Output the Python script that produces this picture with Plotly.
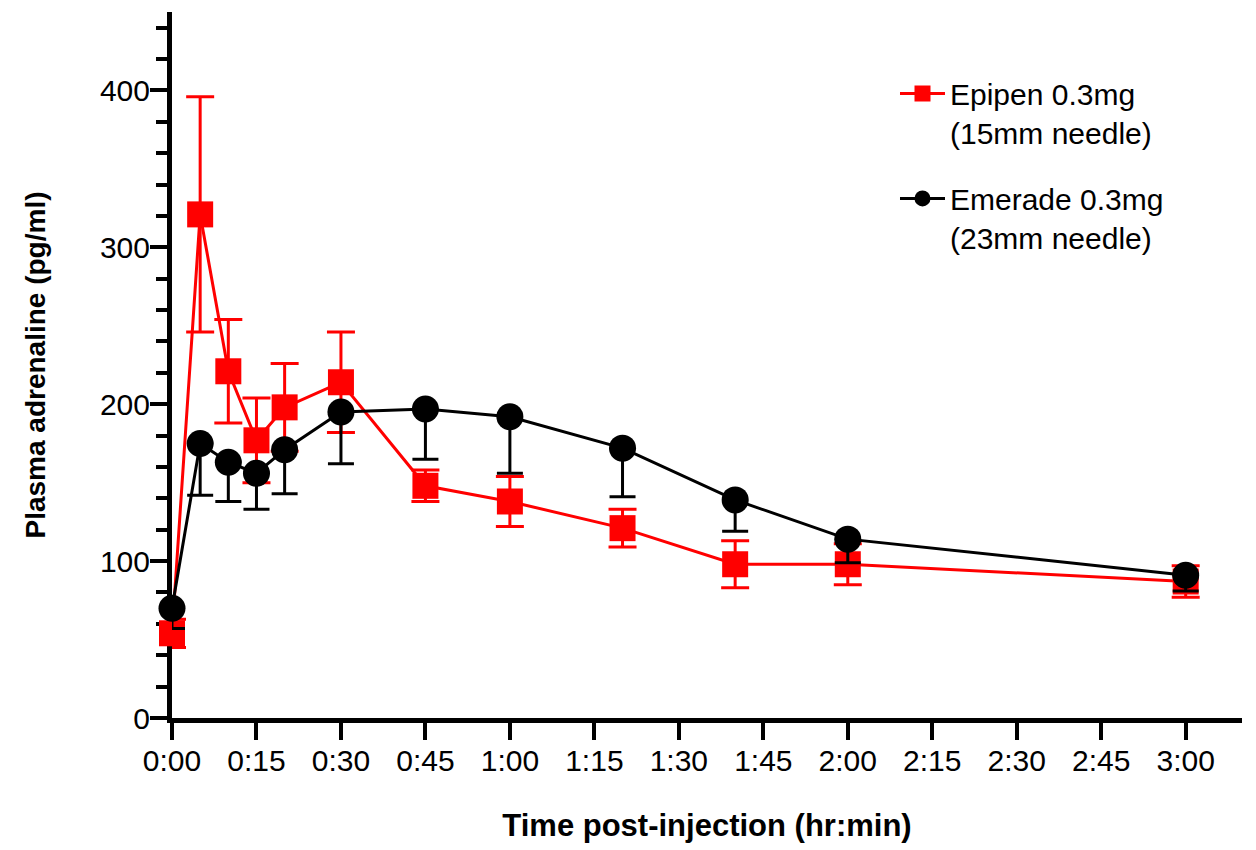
import plotly.graph_objects as go

# ---- data (minutes post-injection) ----
time_min = [0, 5, 10, 15, 20, 30, 45, 60, 80, 100, 120, 180]

epipen_mean = [54, 321, 221, 177, 198, 214, 148, 138, 121, 98, 98, 87]
epipen_err = [9, 75, 33, 27, 28, 32, 10, 16, 12, 15, 13, 10]

emerade_mean = [70, 175, 163, 156, 171, 195, 197, 192, 172, 139, 114, 91]
emerade_err_lower = [13, 33, 25, 23, 28, 33, 32, 36, 31, 20, 15, 10]

x_tickvals = [0, 15, 30, 45, 60, 75, 90, 105, 120, 135, 150, 165, 180]
x_ticktext = ["0:00", "0:15", "0:30", "0:45", "1:00", "1:15", "1:30",
              "1:45", "2:00", "2:15", "2:30", "2:45", "3:00"]
y_tickvals = [0, 100, 200, 300, 400]

FONT = "Liberation Sans, Arial, sans-serif"

fig = go.Figure()

fig.add_trace(go.Scatter(
    x=time_min, y=epipen_mean,
    mode="lines+markers",
    name="Epipen 0.3mg<br>(15mm needle)",
    legendgroup="a",
    line=dict(color="#ff0000", width=3),
    marker=dict(symbol="square", size=26, color="#ff0000"),
    error_y=dict(type="data", array=epipen_err, visible=True,
                 color="#ff0000", thickness=3, width=14),
    cliponaxis=False,
))

fig.add_trace(go.Scatter(
    x=time_min, y=emerade_mean,
    mode="lines+markers",
    name="Emerade 0.3mg<br>(23mm needle)",
    legendgroup="b",
    line=dict(color="#000000", width=3),
    marker=dict(symbol="circle", size=27, color="#000000"),
    error_y=dict(type="data", symmetric=False,
                 array=[0] * len(emerade_err_lower),
                 arrayminus=emerade_err_lower, visible=True,
                 color="#000000", thickness=3, width=13),
    cliponaxis=False,
))

fig.update_layout(
    width=1248, height=842,
    margin=dict(l=164, r=14, t=4, b=132, autoexpand=False),
    paper_bgcolor="white", plot_bgcolor="white",
    font=dict(family=FONT, color="black", size=30),
    showlegend=True,
    legend=dict(
        x=0.6757, y=0.9215, xanchor="left", yanchor="top",
        font=dict(family=FONT, size=30, color="black"),
        traceorder="grouped", tracegroupgap=24,
        valign="top", itemsizing="trace", itemwidth=45,
        bgcolor="rgba(0,0,0,0)",
    ),
    xaxis=dict(
        range=[0, 190],
        tickmode="array", tickvals=x_tickvals, ticktext=x_ticktext,
        showgrid=False, zeroline=False,
        showline=True, linewidth=5, linecolor="black",
        ticks="outside", ticklen=17, tickwidth=4, tickcolor="black",
        tickfont=dict(family=FONT, size=30, color="black"),
        ticklabelstandoff=-5,
        title=dict(text="<b>Time post-injection (hr:min)</b>",
                   font=dict(family=FONT, size=31, color="black"),
                   standoff=40),
        layer="below traces",
    ),
    yaxis=dict(
        range=[0, 450],
        tickmode="array", tickvals=y_tickvals,
        showgrid=False, zeroline=False,
        showline=True, linewidth=5, linecolor="black",
        ticks="outside", ticklen=17, tickwidth=4, tickcolor="black",
        tickfont=dict(family=FONT, size=30, color="black"),
        ticklabelstandoff=-6,
        minor=dict(dtick=20, tick0=0, ticks="outside", ticklen=11,
                   tickwidth=4, tickcolor="black", showgrid=False),
        title=dict(text="<b>Plasma adrenaline (pg/ml)</b>",
                   font=dict(family=FONT, size=28, color="black"),
                   standoff=48),
        layer="below traces",
    ),
)

fig.write_html("out.html")
